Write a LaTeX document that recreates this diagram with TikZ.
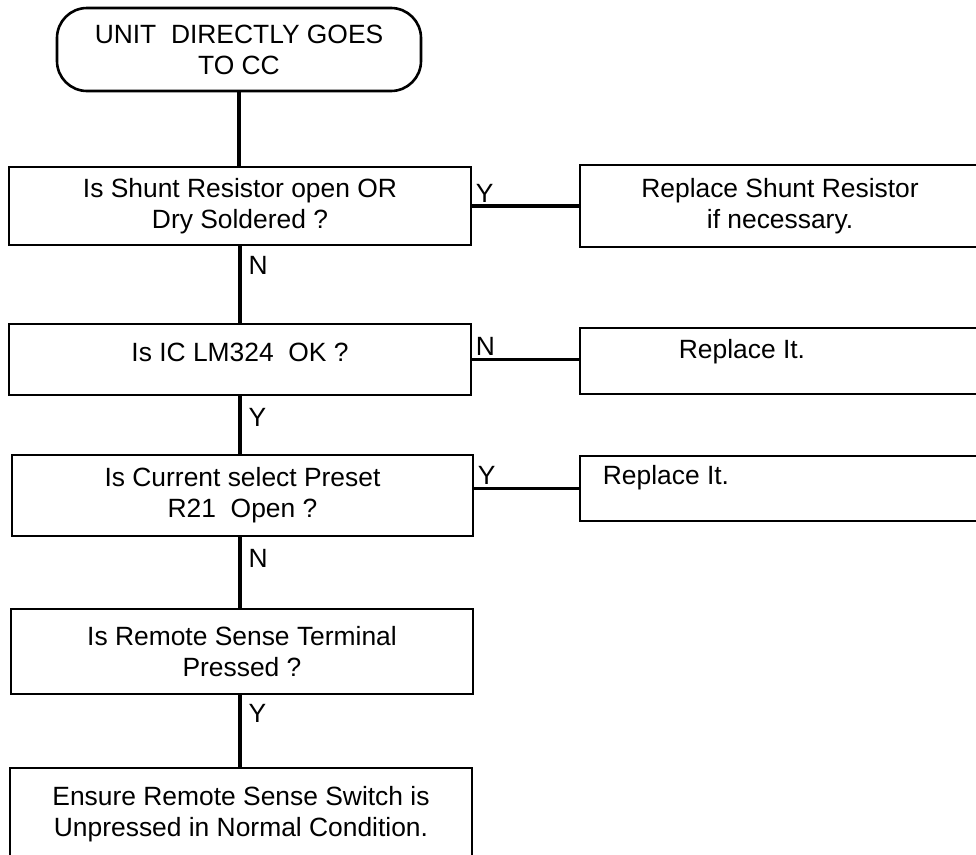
\documentclass[tikz,border=0pt]{standalone}
\usepackage{fontspec}
\setmainfont{Liberation Sans}
\usetikzlibrary{positioning}
\tikzstyle{startbox} = [draw=black, line width=2.6pt, rectangle, rounded corners=30pt,
    minimum width=364pt, minimum height=83pt, align=center]
\tikzstyle{qbox} = [draw=black, line width=2.6pt, rectangle, minimum width=462pt, align=center]
\tikzstyle{abox} = [draw=black, line width=2.6pt, rectangle, minimum width=400pt, align=center]
\tikzstyle{note} = [inner sep=0pt]
\tikzstyle{link} = [line width=3.2pt]
\tikzstyle{yn} = [inner sep=2pt]

\begin{document}
\begin{tikzpicture}[x=1pt, y=-1pt, font=\fontsize{26.4}{31}\selectfont]
                \useasboundingbox (0,0) rectangle (976,854);
                \clip (0,0) rectangle (976,854);
                % question column
                \node [startbox] (start) at (239,49.5) {UNIT~~DIRECTLY GOES\\TO CC};
                \node [qbox, minimum height=78pt] (shunt) at (240,206) {Is Shunt Resistor open OR\\Dry Soldered ?};
                \node [qbox, minimum height=71pt, text depth=14pt] (ic) at (240,359.5) {Is IC LM324~~OK ?};
                \node [qbox, minimum width=461pt, minimum height=81pt] (preset) at (242.5,495.5) {Is Current select Preset\\R21~~Open ?};
                \node [qbox, minimum height=85pt] (remote) at (242,651.5) {Is Remote Sense Terminal\\Pressed ?};
                \node [qbox, minimum height=92pt] (ensure) at (241,814) {Ensure Remote Sense Switch is\\Unpressed in Normal Condition.};
                % action column
                \node [abox, minimum height=82pt] (repshunt) at (780,206) {Replace Shunt Resistor\\if necessary.};
                \node [abox, minimum height=66pt] (repic) at (780,361) {};
                \node [note, anchor=west] (repictext) at ([xshift=100pt, yshift=9pt]repic.west) {Replace It.};
                \node [abox, minimum height=65pt] (reppreset) at (780,488.5) {};
                \node [note, anchor=west] (reppresettext) at ([xshift=24pt, yshift=10.5pt]reppreset.west) {Replace It.};
                % connectors
                \draw [link] (start.south) -- (start.south |- shunt.north);
                \draw [link] (shunt.east) -- node [yn, pos=0, above right] {Y} (repshunt.west);
                \draw [link] (shunt.south) -- node [yn, pos=0.25, right=5pt] {N} (shunt.south |- ic.north);
                \draw [link] (ic.east) -- node [yn, pos=0, above right] {N} (ic.east -| repic.west);
                \draw [link] (ic.south) -- node [yn, pos=0.37, right=5pt] {Y} (ic.south |- preset.north);
                \draw [link] (reppreset.west -| preset.east) -- node [yn, pos=0, above right] {Y} (reppreset.west);
                \draw [link] (shunt.south |- preset.south) -- node [yn, pos=0.3, right=5pt] {N} (shunt.south |- remote.north);
                \draw [link] (shunt.south |- remote.south) -- node [yn, pos=0.26, right=5pt] {Y} (shunt.south |- ensure.north);
            \end{tikzpicture}
\end{document}
